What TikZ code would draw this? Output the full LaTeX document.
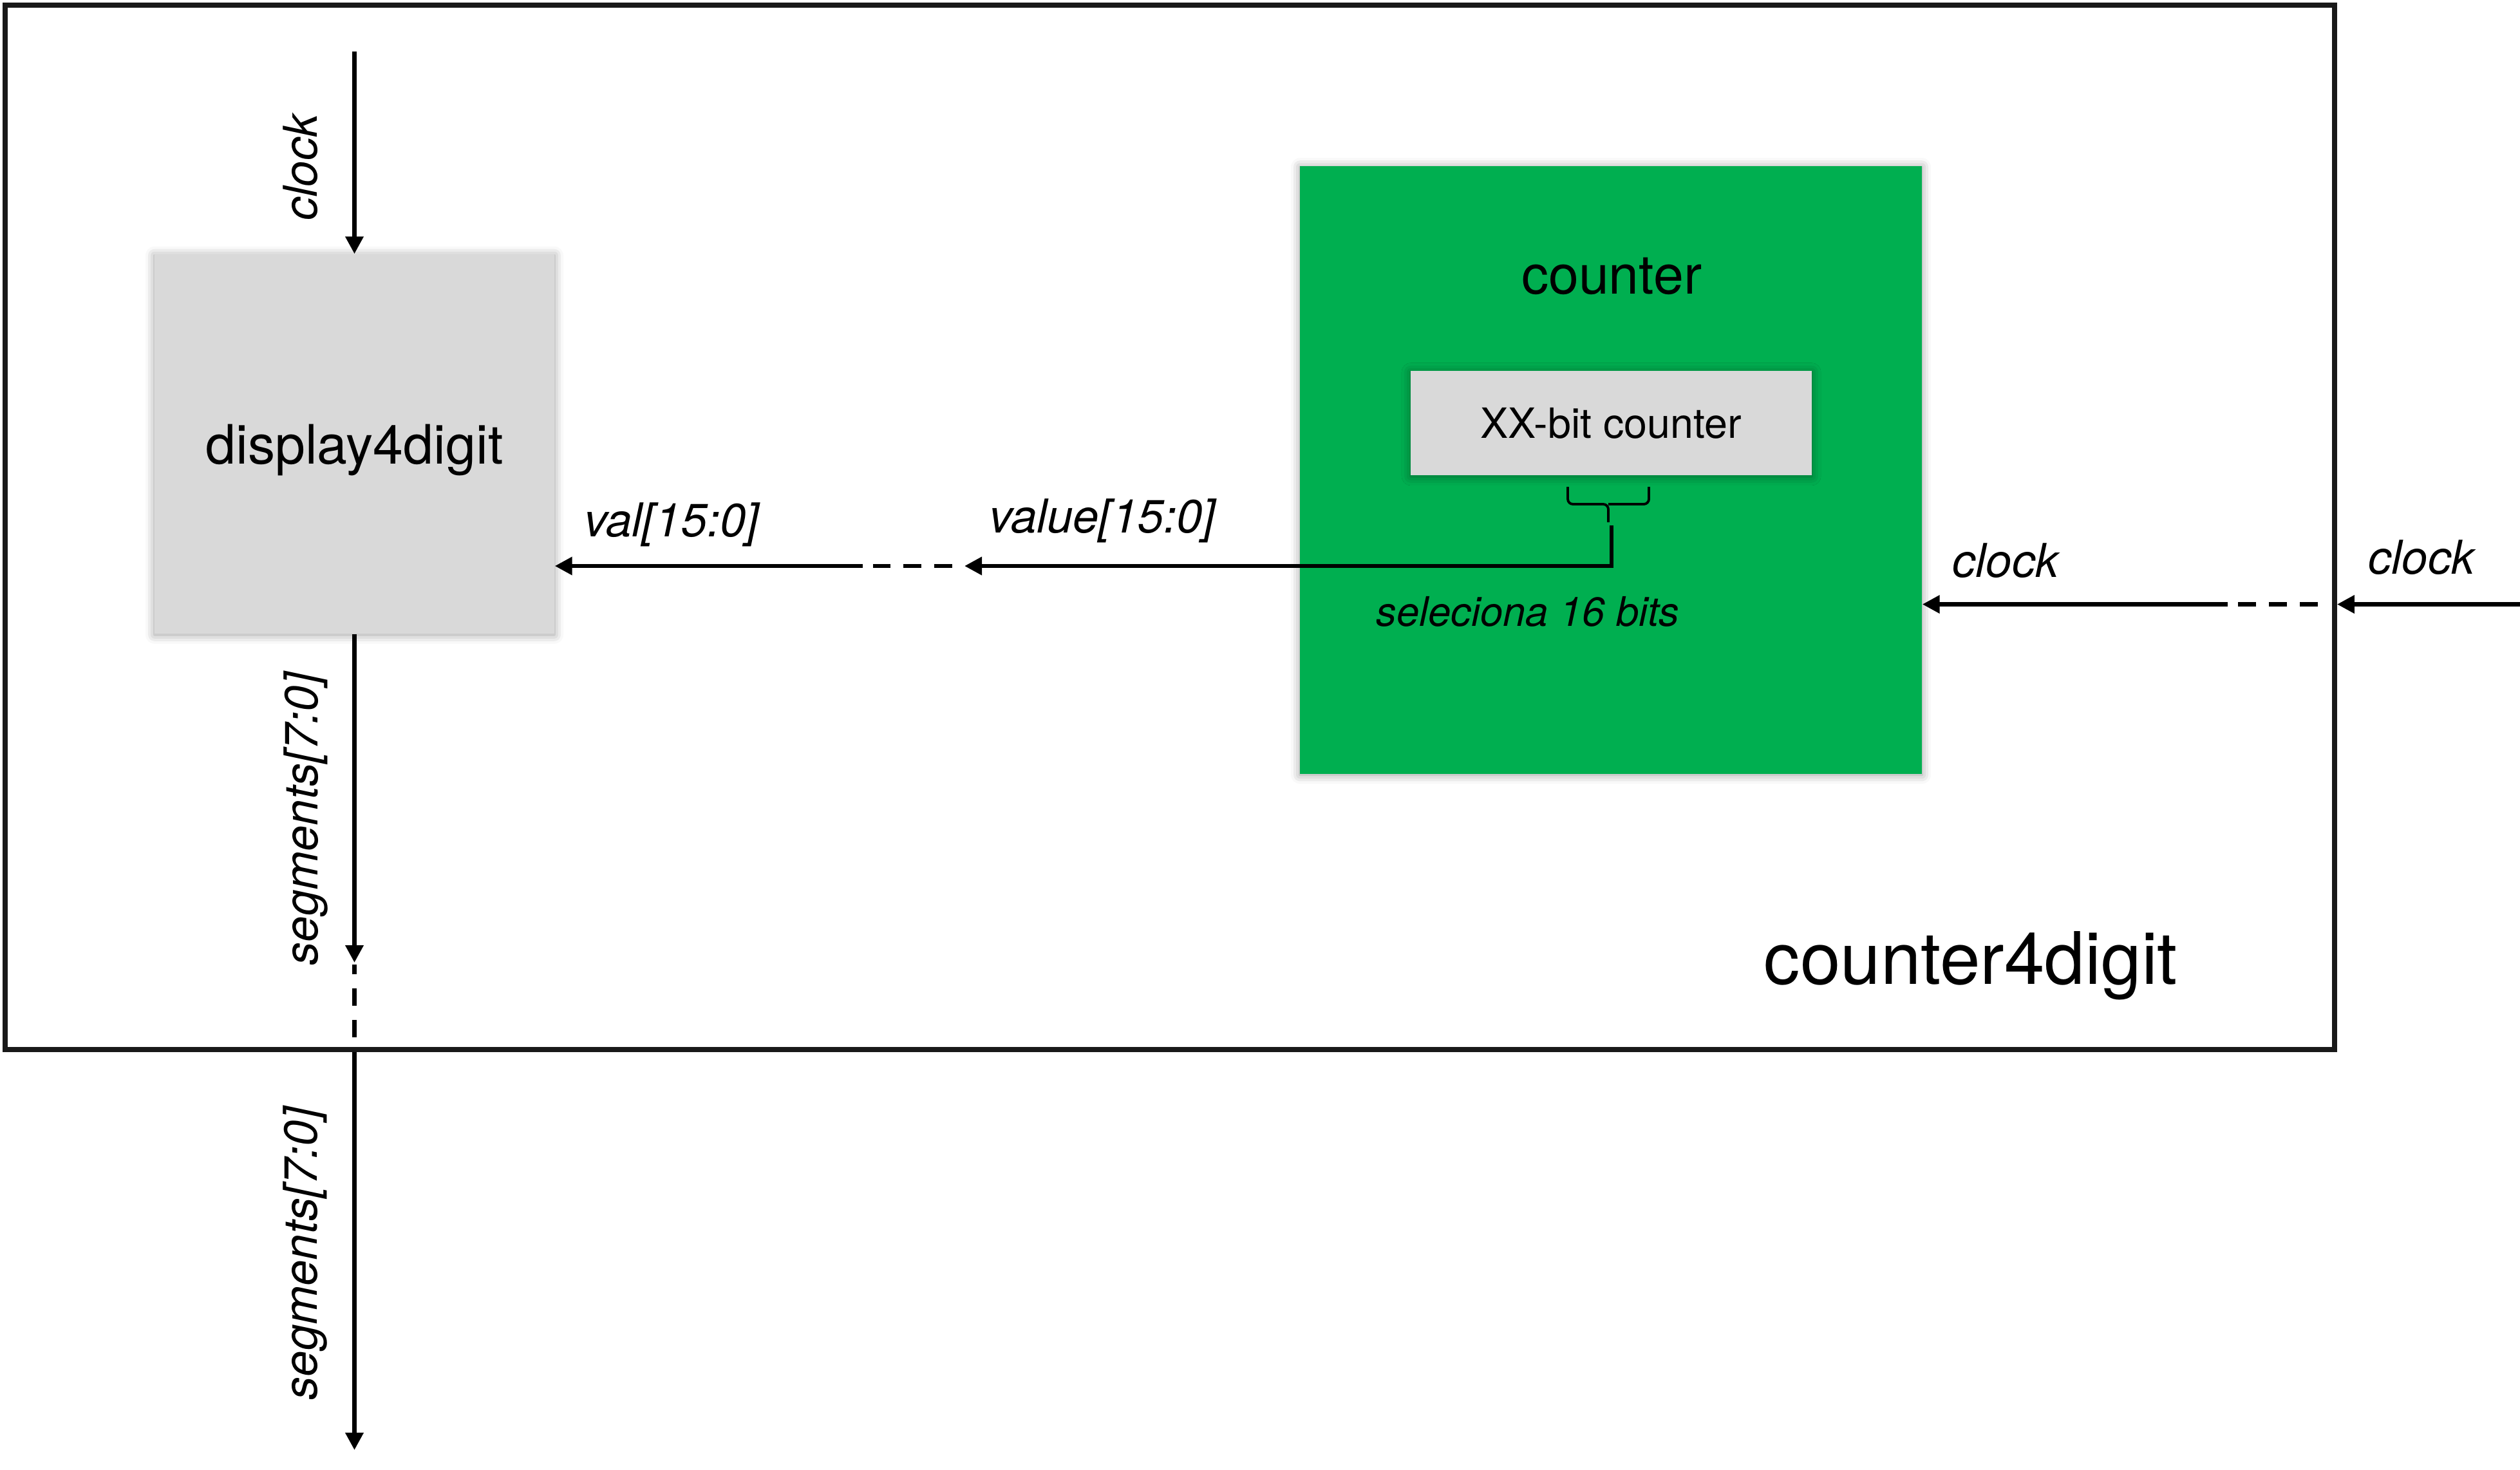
\documentclass[tikz,border=0pt]{standalone}
\usepackage{fontspec}
\setmainfont{TeX Gyre Heros}
\usetikzlibrary{arrows.meta,positioning,calc,shadows.blur}
\definecolor{blockgreen}{RGB}{0,175,80}
\definecolor{blockgray}{RGB}{217,217,217}
\tikzset{
    frame/.style={draw=black!90, line width=2.2pt, minimum width=36.18cm, minimum height=16.22cm},
    block/.style={fill=blockgray, minimum width=6.21cm, minimum height=5.89cm,
                  blur shadow={shadow blur radius=4pt, shadow xshift=0pt, shadow yshift=-0.5pt, shadow opacity=40}},
    blockG/.style={fill=blockgreen, minimum width=9.66cm, minimum height=9.44cm,
                  blur shadow={shadow blur radius=4pt, shadow xshift=0pt, shadow yshift=-0.5pt, shadow opacity=40}},
    subblock/.style={fill=blockgray, minimum width=6.23cm, minimum height=1.62cm, font=\fontsize{18.4}{22}\selectfont,
                  blur shadow={shadow blur radius=4pt, shadow xshift=0pt, shadow yshift=-0.5pt, shadow opacity=40}},
    title/.style={font=\fontsize{24}{29}\selectfont},
    bigtitle/.style={font=\fontsize{32}{38}\selectfont},
    sig/.style={font=\fontsize{20.6}{25}\selectfont\itshape},
    note/.style={font=\fontsize{18}{22}\selectfont\itshape},
    wire/.style={line width=1.9pt, -{Triangle[width=0.27cm,length=0.27cm]}},
    wireD/.style={line width=1.9pt, dash pattern=on 0.28cm off 0.2cm},
    bracket/.style={line width=1.1pt, rounded corners=0.08cm},
}

\begin{document}
\begin{tikzpicture}
    \useasboundingbox (0,0) rectangle (39.14,-22.82);

    % Outer module
    \node[frame] (top) at (18.17,-8.19) {};
    \node[bigtitle] (toplbl) at (30.61,-15.00) {counter4digit};

    % display4digit
    \node[block] (disp) at (5.505,-6.895) {};
    \node[title] (displbl) at (5.505,-6.99) {display4digit};

    % counter
    \node[blockG] (cnt) at (25.02,-7.295) {};
    \node[title] (cntlbl) at (25.03,-4.29) {counter};
    \node[subblock] (xx) at (25.025,-6.57) {XX-bit counter};
    \coordinate (brtip) at (24.98,-8.11);
    \draw[bracket] (24.35,-7.56) |- (24.98,-7.83) -- (brtip);
    \draw[bracket] (25.61,-7.56) |- (24.98,-7.83);
    \node[note] (selnote) at (23.73,-9.50) {seleciona 16 bits};

    % clock into display4digit
    \coordinate (clkin) at (5.505,-0.80);
    \draw[wire] (clkin) -- (disp.north);
    \node[sig, rotate=90] (clklblA) at (4.67,-2.60) {clock};

    % segments out
    \coordinate (segtip) at (5.505,-14.95);
    \coordinate (segdA) at (5.505,-16.11);
    \coordinate (segdB) at (5.505,-14.98);
    \coordinate (segpin) at (5.505,-22.52);
    \draw[wire] (disp.south) -- (segtip);
    \draw[line width=1.9pt, dash pattern=on 0.27cm off 0.22cm] (segdA) -- (segdB);
    \draw[wire] (top.south -| disp) -- (segpin);
    \node[sig, rotate=90] (seglblA) at (4.75,-12.72) {segments[7:0]};
    \node[sig, rotate=90] (seglblB) at (4.74,-19.47) {segments[7:0]};

    % value bus
    \coordinate (sel) at (25.03,-8.16);
    \coordinate (valtip) at (14.98,-8.79);
    \coordinate (valdA) at (14.79,-8.79);
    \coordinate (valdB) at (13.56,-8.79);
    \coordinate (valdash) at (13.40,-8.79);
    \draw[wire] (sel) |- (valtip);
    \draw[wireD] (valdA) -- (valdB);
    \draw[wire] (valdash) -- (valdash -| disp.east);
    \node[sig] (vallbl) at (10.43,-8.15) {val[15:0]};
    \node[sig] (valuelbl) at (17.12,-8.09) {value[15:0]};

    % clock into counter
    \coordinate (clkext) at (39.14,-9.385);
    \coordinate (clkdA) at (36.00,-9.385);
    \coordinate (clkdB) at (34.76,-9.385);
    \coordinate (clkdash) at (34.60,-9.385);
    \draw[wire] (clkext) -- (top.east |- clkext);
    \draw[wireD] (clkdA) -- (clkdB);
    \draw[wire] (clkdash) -- (cnt.east |- clkdash);
    \node[sig] (clklblB) at (31.15,-8.71) {clock};
    \node[sig] (clklblC) at (37.61,-8.66) {clock};
\end{tikzpicture}
\end{document}
